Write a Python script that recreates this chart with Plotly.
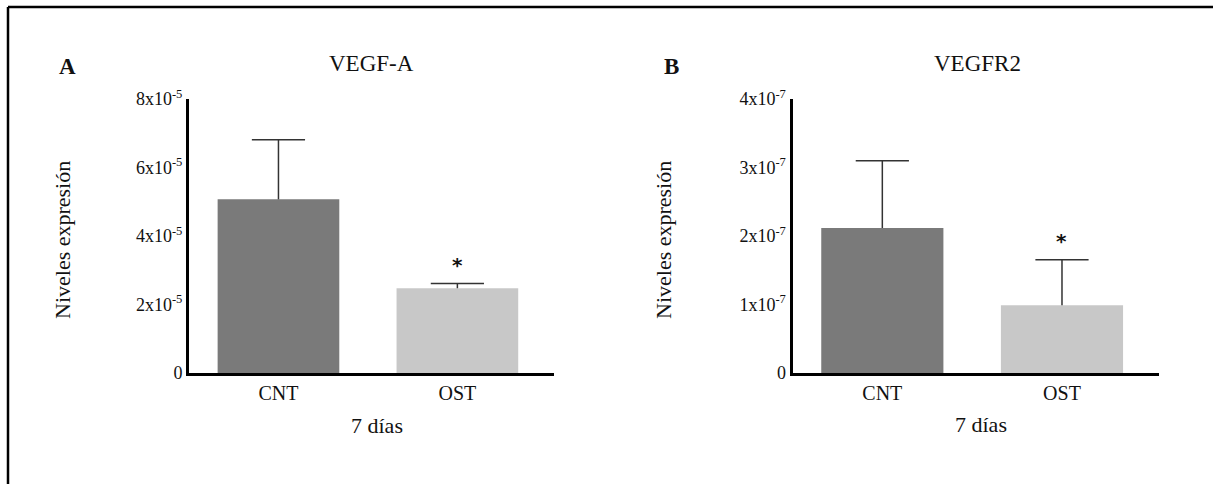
import plotly.graph_objects as go

W, H = 1213, 484

categories = ["CNT", "OST"]

vegfa_mean = [5.07e-5, 2.475e-5]
vegfa_err = [1.74e-5, 0.135e-5]
vegfa_tickvals = [0, 2e-5, 4e-5, 6e-5, 8e-5]
vegfa_ticktext = ["0", "2x10<sup>-5</sup>", "4x10<sup>-5</sup>", "6x10<sup>-5</sup>", "8x10<sup>-5</sup>"]

vegfr2_mean = [2.117e-7, 0.99e-7]
vegfr2_err = [0.983e-7, 0.664e-7]
vegfr2_tickvals = [0, 1e-7, 2e-7, 3e-7, 4e-7]
vegfr2_ticktext = ["0", "1x10<sup>-7</sup>", "2x10<sup>-7</sup>", "3x10<sup>-7</sup>", "4x10<sup>-7</sup>"]

bar_colors = ["#7a7a7a", "#c8c8c8"]
FONT = "Liberation Serif"
ERR_COLOR = "#333333"

def px(x):
    return x / W

def py(y):
    return 1 - y / H

fig = go.Figure()

for mean, err, xa, ya in [(vegfa_mean, vegfa_err, "x", "y"), (vegfr2_mean, vegfr2_err, "x2", "y2")]:
    fig.add_trace(go.Bar(
        x=categories, y=mean, xaxis=xa, yaxis=ya,
        marker=dict(color=bar_colors, line=dict(width=0)),
        width=0.68, showlegend=False, hoverinfo="skip",
    ))
    # upper-only error bars: stem from the bar top, cap drawn as a marker at the top
    tops = [m + e for m, e in zip(mean, err)]
    fig.add_trace(go.Scatter(
        x=categories, y=tops, xaxis=xa, yaxis=ya, mode="markers",
        marker=dict(symbol="line-ew", size=38, color=ERR_COLOR,
                    line=dict(color=ERR_COLOR, width=1.5)),
        error_y=dict(type="data", array=[0, 0], arrayminus=err, symmetric=False,
                     color=ERR_COLOR, thickness=1.5, width=0),
        showlegend=False, hoverinfo="skip",
    ))

ydom = [py(373), py(99)]
common_x = dict(showline=True, linecolor="black", linewidth=3, ticks="", showgrid=False,
                zeroline=False, range=[-0.5, 1.54], tickfont=dict(family=FONT, size=20, color="#111"),
                fixedrange=True, automargin=False)
common_y = dict(showline=True, linecolor="black", linewidth=3, ticks="", showgrid=False,
                zeroline=False, tickfont=dict(family=FONT, size=18, color="#111"), fixedrange=True,
                automargin=False)

fig.update_layout(
    template="none",
    width=W, height=H, autosize=False,
    margin=dict(l=0, r=0, t=0, b=0, pad=0),
    paper_bgcolor="white", plot_bgcolor="white",
    xaxis=dict(domain=[px(189), px(554)], anchor="y", **common_x),
    yaxis=dict(domain=ydom, anchor="x", range=[0, 8e-5], tickvals=vegfa_tickvals,
               ticktext=vegfa_ticktext, **common_y),
    xaxis2=dict(domain=[px(792.5), px(1159)], anchor="y2", **common_x),
    yaxis2=dict(domain=ydom, anchor="x2", range=[0, 4e-7], tickvals=vegfr2_tickvals,
                ticktext=vegfr2_ticktext, **common_y),
)

ann = []
def text(x, y, s, size=22, bold=False, angle=0):
    ann.append(dict(x=px(x), y=py(y), xref="paper", yref="paper", text=("<b>%s</b>" % s) if bold else s,
                    showarrow=False, xanchor="center", yanchor="middle", textangle=angle,
                    font=dict(family=FONT, size=size, color="#111")))

text(67, 66, "A", size=23, bold=True)
text(371, 63, "VEGF-A", size=23)
text(62, 240, "Niveles expresión", size=22, angle=-90)
text(377, 425, "7 días", size=22)

text(671, 66, "B", size=23, bold=True)
text(977, 63, "VEGFR2", size=23)
text(663, 240, "Niveles expresión", size=22, angle=-90)
text(981, 424, "7 días", size=22)

# significance stars above OST error bars
for mean, err, xr, yr in [(vegfa_mean, vegfa_err, "x", "y"), (vegfr2_mean, vegfr2_err, "x2", "y2")]:
    ann.append(dict(x=categories[1], y=mean[1] + err[1], xref=xr, yref=yr, text="<b>*</b>",
                    showarrow=False, xanchor="center", yanchor="middle", yshift=19,
                    font=dict(family="DejaVu Sans", size=20, color="#111")))

fig.update_layout(annotations=ann)

# figure frame (left and top edges)
fig.add_shape(type="line", xref="paper", yref="paper", x0=px(8), x1=px(8), y0=0, y1=py(7),
              line=dict(color="black", width=2.5))
fig.add_shape(type="line", xref="paper", yref="paper", x0=px(8), x1=1, y0=py(7), y1=py(7),
              line=dict(color="black", width=2.5))

fig.write_html("out.html", config={"displayModeBar": False},
               post_script="document.body.style.margin='0px';document.body.style.overflow='hidden';")
